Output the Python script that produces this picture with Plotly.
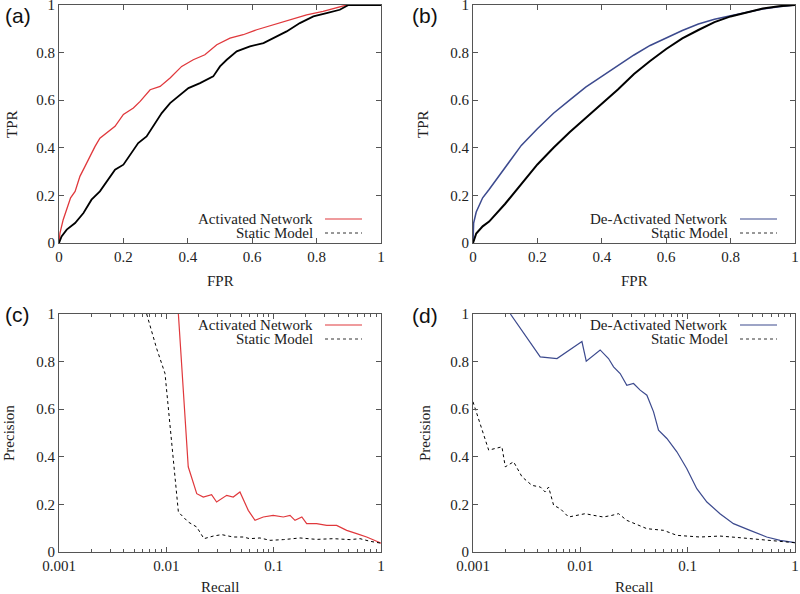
import plotly.graph_objects as go

# ---------------- data ----------------
roc_a_act_fpr = [0, 0.003, 0.013, 0.024, 0.036, 0.05, 0.065, 0.08, 0.096, 0.112, 0.127, 0.148, 0.174, 0.2, 0.231, 0.252, 0.283, 0.314, 0.345, 0.381, 0.417, 0.453, 0.49, 0.531, 0.572, 0.614, 0.666, 0.717, 0.769, 0.82, 0.862, 0.893, 1.0]
roc_a_act_tpr = [0, 0.042, 0.098, 0.14, 0.19, 0.217, 0.28, 0.32, 0.364, 0.406, 0.44, 0.462, 0.49, 0.54, 0.567, 0.595, 0.644, 0.658, 0.693, 0.742, 0.77, 0.791, 0.833, 0.861, 0.875, 0.896, 0.917, 0.938, 0.959, 0.973, 0.987, 1.0, 1.0]
roc_a_sta_fpr = [0, 0.008, 0.024, 0.05, 0.076, 0.101, 0.127, 0.148, 0.174, 0.2, 0.226, 0.246, 0.272, 0.298, 0.319, 0.345, 0.376, 0.402, 0.438, 0.479, 0.5, 0.521, 0.552, 0.593, 0.635, 0.666, 0.707, 0.748, 0.79, 0.831, 0.872, 0.899, 1.0]
roc_a_sta_tpr = [0, 0.028, 0.056, 0.084, 0.126, 0.182, 0.217, 0.259, 0.308, 0.329, 0.378, 0.42, 0.448, 0.504, 0.546, 0.588, 0.623, 0.651, 0.672, 0.7, 0.742, 0.77, 0.805, 0.826, 0.84, 0.861, 0.889, 0.924, 0.952, 0.966, 0.98, 1.0, 1.0]

roc_b_deact_fpr = [0, 0.002, 0.01, 0.03, 0.05, 0.1, 0.15, 0.2, 0.25, 0.3, 0.35, 0.4, 0.45, 0.5, 0.55, 0.6, 0.65, 0.7, 0.75, 0.8, 0.85, 0.9, 0.95, 1.0]
roc_b_deact_tpr = [0, 0.084, 0.13, 0.19, 0.225, 0.32, 0.41, 0.48, 0.545, 0.6, 0.655, 0.70, 0.745, 0.79, 0.83, 0.862, 0.893, 0.92, 0.94, 0.955, 0.97, 0.983, 0.993, 1.0]
roc_b_sta_fpr = [0, 0.01, 0.03, 0.05, 0.1, 0.15, 0.2, 0.25, 0.3, 0.35, 0.4, 0.45, 0.5, 0.55, 0.6, 0.65, 0.7, 0.75, 0.8, 0.85, 0.9, 0.95, 1.0]
roc_b_sta_tpr = [0, 0.04, 0.07, 0.09, 0.165, 0.25, 0.33, 0.40, 0.465, 0.525, 0.585, 0.645, 0.71, 0.765, 0.815, 0.86, 0.895, 0.928, 0.952, 0.97, 0.985, 0.995, 1.0]

pr_c_act_rec = [0.01295, 0.016, 0.0192, 0.0221, 0.0264, 0.0294, 0.0365, 0.042, 0.0485, 0.058, 0.067, 0.080, 0.099, 0.123, 0.142, 0.158, 0.183, 0.203, 0.251, 0.312, 0.386, 0.479, 0.593, 0.735, 0.911, 1.0]
pr_c_act_prec = [1.0, 0.358, 0.245, 0.231, 0.241, 0.21, 0.238, 0.231, 0.252, 0.175, 0.133, 0.147, 0.154, 0.147, 0.154, 0.133, 0.147, 0.119, 0.119, 0.112, 0.112, 0.091, 0.077, 0.063, 0.045, 0.037]
pr_c_sta_rec = [0.00656, 0.00812, 0.00972, 0.01295, 0.016, 0.0192, 0.0224, 0.0274, 0.0328, 0.042, 0.052, 0.06, 0.0746, 0.0925, 0.123, 0.176, 0.251, 0.36, 0.514, 0.637, 0.79, 1.0]
pr_c_sta_prec = [1.0, 0.855, 0.75, 0.168, 0.126, 0.105, 0.056, 0.067, 0.073, 0.063, 0.063, 0.056, 0.059, 0.049, 0.052, 0.059, 0.053, 0.056, 0.052, 0.056, 0.045, 0.037]

pr_d_deact_rec = [0.00223, 0.00423, 0.00606, 0.01035, 0.01135, 0.0153, 0.0183, 0.0204, 0.0235, 0.0271, 0.0313, 0.0361, 0.0417, 0.0481, 0.0535, 0.064, 0.0793, 0.098, 0.1216, 0.151, 0.2, 0.267, 0.381, 0.545, 0.726, 1.0]
pr_d_deact_prec = [1.0, 0.82, 0.813, 0.884, 0.802, 0.849, 0.813, 0.778, 0.75, 0.7, 0.708, 0.68, 0.659, 0.589, 0.512, 0.477, 0.421, 0.351, 0.266, 0.21, 0.161, 0.119, 0.091, 0.063, 0.049, 0.039]
pr_d_sta_rec = [0.001, 0.0014, 0.00186, 0.002, 0.00239, 0.00286, 0.00354, 0.00424, 0.00471, 0.00506, 0.00564, 0.0065, 0.00777, 0.00929, 0.0111, 0.0133, 0.0164, 0.0197, 0.0227, 0.0271, 0.0336, 0.0417, 0.0596, 0.0793, 0.13, 0.2, 0.308, 0.473, 0.726, 1.0]
pr_d_sta_prec = [0.631, 0.428, 0.442, 0.358, 0.379, 0.316, 0.28, 0.273, 0.252, 0.273, 0.196, 0.182, 0.147, 0.154, 0.161, 0.154, 0.147, 0.154, 0.161, 0.133, 0.115, 0.098, 0.091, 0.07, 0.063, 0.067, 0.06, 0.053, 0.046, 0.039]

lin_ticks = [0, 0.2, 0.4, 0.6, 0.8, 1]
lin_labels = ["0", "0.2", "0.4", "0.6", "0.8", "1"]
log_ticks = [0.001, 0.01, 0.1, 1]
log_labels = ["0.001", "0.01", "0.1", "1"]
panel_labels = ["(a)", "(b)", "(c)", "(d)"]

RED = "#e0383c"
BLUE = "#3c4a8e"
BLACK = "#000000"
FRAME = "#555555"
SERIF = "Liberation Serif"
SANS = "Liberation Sans"

W, H = 800, 594
def px(x):
    return x / W
def py(y):
    return 1 - y / H

fig = go.Figure()

fig.add_trace(go.Scatter(x=roc_a_act_fpr, y=roc_a_act_tpr, mode="lines", line=dict(color=RED, width=1.3), xaxis="x", yaxis="y"))
fig.add_trace(go.Scatter(x=roc_a_sta_fpr, y=roc_a_sta_tpr, mode="lines", line=dict(color=BLACK, width=1.8), xaxis="x", yaxis="y"))
fig.add_trace(go.Scatter(x=roc_b_deact_fpr, y=roc_b_deact_tpr, mode="lines", line=dict(color=BLUE, width=1.5), xaxis="x2", yaxis="y2"))
fig.add_trace(go.Scatter(x=roc_b_sta_fpr, y=roc_b_sta_tpr, mode="lines", line=dict(color=BLACK, width=2), xaxis="x2", yaxis="y2"))
fig.add_trace(go.Scatter(x=pr_c_act_rec, y=pr_c_act_prec, mode="lines", line=dict(color=RED, width=1.2), xaxis="x3", yaxis="y3"))
fig.add_trace(go.Scatter(x=pr_c_sta_rec, y=pr_c_sta_prec, mode="lines", line=dict(color=BLACK, width=1, dash="dot"), xaxis="x3", yaxis="y3"))
fig.add_trace(go.Scatter(x=pr_d_deact_rec, y=pr_d_deact_prec, mode="lines", line=dict(color=BLUE, width=1.2), xaxis="x4", yaxis="y4"))
fig.add_trace(go.Scatter(x=pr_d_sta_rec, y=pr_d_sta_prec, mode="lines", line=dict(color=BLACK, width=1, dash="dot"), xaxis="x4", yaxis="y4"))

panels = [
    dict(x0=59, x1=381, y0=5, y1=243),
    dict(x0=473, x1=795, y0=5, y1=243),
    dict(x0=59, x1=381, y0=314, y1=552),
    dict(x0=473, x1=795, y0=314, y1=552),
]

layout_axes = {}
for i, p in enumerate(panels):
    sx = "" if i == 0 else str(i + 1)
    common = dict(showline=True, linecolor=FRAME, linewidth=1, mirror="ticks", ticks="inside",
                  ticklen=5, tickcolor=FRAME, showgrid=False, zeroline=False,
                  ticklabeloverflow="allow",
                  tickfont=dict(family=SERIF, size=15, color="#222"))
    xa = dict(common)
    ya = dict(common)
    xa["domain"] = [px(p["x0"]), px(p["x1"])]
    ya["domain"] = [py(p["y1"]), py(p["y0"])]
    xa["anchor"] = "y" + sx
    ya["anchor"] = "x" + sx
    if i < 2:
        xa.update(range=[0, 1], tickvals=lin_ticks, ticktext=lin_labels)
    else:
        xa.update(type="log", range=[-3, 0], tickvals=log_ticks, ticktext=log_labels,
                  minor=dict(ticks="inside", ticklen=3, tickcolor=FRAME,
                             tickvals=[k * 10 ** e for e in (-3, -2, -1) for k in range(2, 10)]))
    ya.update(range=[0, 1], tickvals=lin_ticks, ticktext=lin_labels)
    layout_axes["xaxis" + sx] = xa
    layout_axes["yaxis" + sx] = ya

fig.update_layout(**layout_axes)

annotations = []
shapes = []
label_pos = [(3, 16), (410, 16), (3, 314), (410, 315)]
for lab, (lx, ly) in zip(panel_labels, label_pos):
    annotations.append(dict(text=lab, x=px(lx), y=py(ly), xref="paper", yref="paper", xanchor="left",
                            yanchor="middle", showarrow=False, font=dict(family=SANS, size=21, color="#111")))

titles = [
    ("FPR", 220, 281, 0), ("TPR", 12, 124, -90),
    ("FPR", 634, 281, 0), ("TPR", 423, 124, -90),
    ("Recall", 220, 587, 0), ("Precision", 9, 433, -90),
    ("Recall", 634, 587, 0), ("Precision", 425, 433, -90),
]
for t, tx, ty, ang in titles:
    annotations.append(dict(text=t, x=px(tx), y=py(ty), xref="paper", yref="paper", xanchor="center",
                            yanchor="middle", showarrow=False, textangle=ang,
                            font=dict(family=SERIF, size=15, color="#222")))

legends = [
    (315, 219, 233, 325, 362, "Activated Network", RED),
    (730, 219, 233, 740, 777, "De-Activated Network", BLUE),
    (315, 325, 339, 325, 362, "Activated Network", RED),
    (730, 325, 339, 740, 777, "De-Activated Network", BLUE),
]
for tx, r1, r2, s0, s1, name, col in legends:
    annotations.append(dict(text=name, x=px(tx), y=py(r1), xref="paper", yref="paper", xanchor="right",
                            yanchor="middle", showarrow=False, font=dict(family=SERIF, size=15, color="#222")))
    annotations.append(dict(text="Static Model", x=px(tx), y=py(r2), xref="paper", yref="paper", xanchor="right",
                            yanchor="middle", showarrow=False, font=dict(family=SERIF, size=15, color="#222")))
    shapes.append(dict(type="line", xref="paper", yref="paper", x0=px(s0), x1=px(s1), y0=py(r1), y1=py(r1),
                       line=dict(color=col, width=1.2)))
    shapes.append(dict(type="line", xref="paper", yref="paper", x0=px(s0), x1=px(s1), y0=py(r2), y1=py(r2),
                       line=dict(color="#333", width=1, dash="dot")))

fig.update_layout(
    width=W, height=H, margin=dict(l=0, r=0, t=0, b=0, autoexpand=False),
    paper_bgcolor="white", plot_bgcolor="white", showlegend=False,
    annotations=annotations, shapes=shapes,
)

fig.write_html("out.html", config={"displayModeBar": False},
               post_script="document.body.style.margin='0';document.body.style.overflow='hidden';")
